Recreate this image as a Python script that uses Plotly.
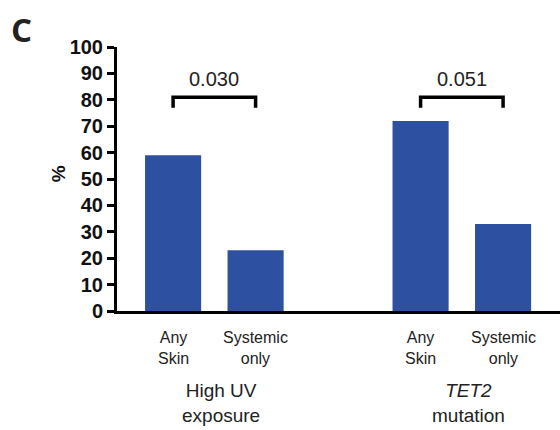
import plotly.graph_objects as go

# ---- data ----
positions = [0, 1, 3, 4]
categories = ["Any<br>Skin", "Systemic<br>only", "Any<br>Skin", "Systemic<br>only"]
values = [59, 23, 72, 33]
groups = ["High UV<br>exposure", "<i>TET2</i><br>mutation"]
group_centers = [0.5, 3.5]
pvalues = ["0.030", "0.051"]
bracket_pairs = [(0, 1), (2, 3)]  # indices into positions
bracket_top = 81
bracket_leg = 77
pvalue_y = 88
y_ticks = list(range(0, 101, 10))

BAR = "#2D50A0"
FONT = "Liberation Sans"

fig = go.Figure()
fig.add_trace(go.Bar(x=positions, y=values, width=0.68, marker=dict(color=BAR, line=dict(width=0)),
                     hoverinfo="skip"))

for (a, b) in bracket_pairs:
    fig.add_trace(go.Scatter(x=[positions[a], positions[a], positions[b], positions[b]],
                             y=[bracket_leg, bracket_top, bracket_top, bracket_leg],
                             mode="lines", line=dict(color="black", width=3.5),
                             hoverinfo="skip"))

annotations = []
for (a, b), p in zip(bracket_pairs, pvalues):
    annotations.append(dict(x=(positions[a] + positions[b]) / 2, y=pvalue_y, xref="x", yref="y",
                            text=p, showarrow=False, font=dict(family=FONT, size=20, color="#222")))
for x, c in zip(positions, categories):
    annotations.append(dict(x=x, y=-0.06, xref="x", yref="paper", yanchor="top", text=c,
                            showarrow=False, font=dict(family=FONT, size=16, color="#222")))
for x, g in zip(group_centers, groups):
    annotations.append(dict(x=x, y=-0.255, xref="x", yref="paper", yanchor="top", text=g, xshift=7,
                            showarrow=False, font=dict(family=FONT, size=19, color="#222")))
annotations.append(dict(x=-0.16, y=0.52, xref="paper", yref="paper", text="<b>%</b>", textangle=-90,
                        showarrow=False, font=dict(family=FONT, size=19, color="#111")))
annotations.append(dict(x=-0.243, y=1.16, xref="paper", yref="paper", xanchor="left", yanchor="top",
                        text="<b>C</b>", showarrow=False,
                        font=dict(family="Open Sans", size=33, color="#222")))

fig.update_layout(
    width=560, height=430,
    margin=dict(l=117, r=0, t=47, b=119),
    paper_bgcolor="white", plot_bgcolor="white",
    showlegend=False,
    annotations=annotations,
    xaxis=dict(range=[-0.68, 4.69], showticklabels=False, ticks="", showgrid=False, zeroline=False,
               showline=True, linecolor="black", linewidth=3, fixedrange=True),
    yaxis=dict(range=[0, 100], tickvals=y_ticks, ticks="outside", ticklen=7, tickwidth=3,
               tickcolor="black", showgrid=False, zeroline=False, showline=True, linecolor="black",
               linewidth=3, tickfont=dict(family=FONT, size=20, color="#111", weight=700),
               fixedrange=True),
)

fig.write_html("out.html")
